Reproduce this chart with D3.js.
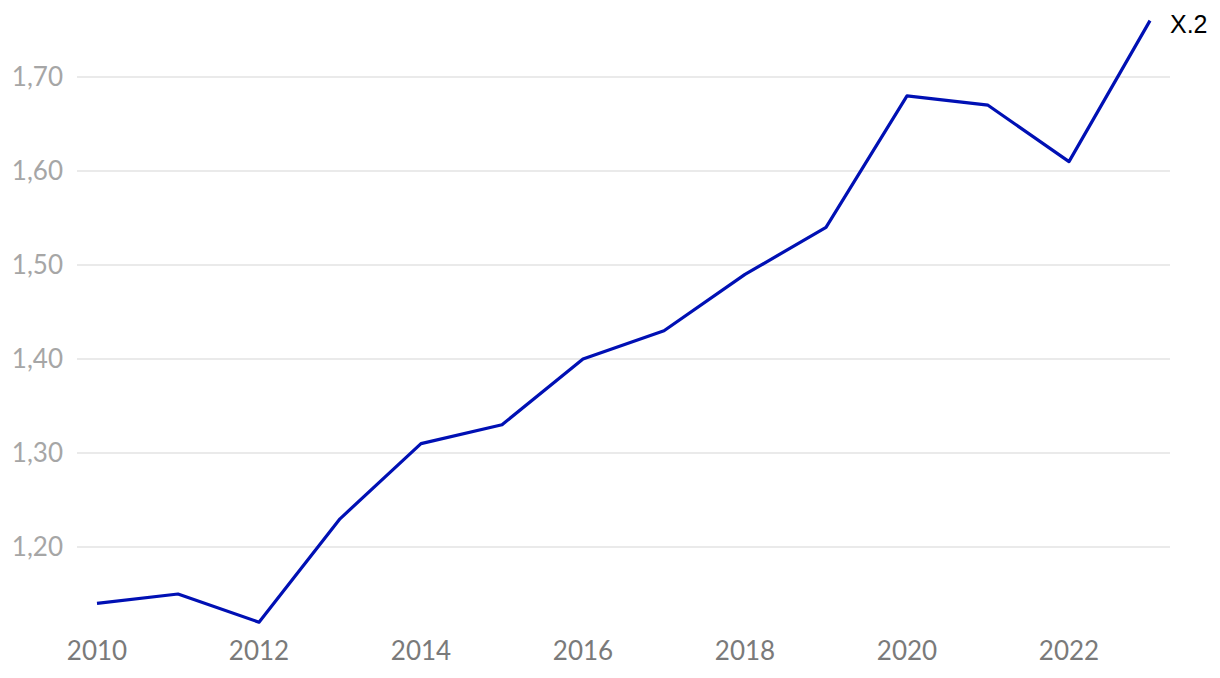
<!DOCTYPE html>
<html>
<head>
<meta charset="utf-8">
<script src="https://cdn.jsdelivr.net/npm/d3@7"></script>
<style>
body { margin: 0; background: #fff; }
</style>
</head>
<body>
<script>
var years = [2010, 2011, 2012, 2013, 2014, 2015, 2016, 2017, 2018, 2019, 2020, 2021, 2022, 2023];
var values = [1.14, 1.15, 1.12, 1.23, 1.31, 1.33, 1.40, 1.43, 1.49, 1.54, 1.68, 1.67, 1.61, 1.76];
var yTicks = [1.2, 1.3, 1.4, 1.5, 1.6, 1.7];
var xTicks = [2010, 2012, 2014, 2016, 2018, 2020, 2022];
var seriesName = 'X.2';

var svg = d3.select('body').append('svg').attr('width', 1220).attr('height', 678);

var x = d3.scaleLinear().domain([2010, 2023]).range([97, 1150]);
var y = d3.scaleLinear().domain([1.1, 1.7]).range([641, 77]);

svg.selectAll('line.grid')
   .data(yTicks).enter().append('line')
   .attr('class', 'grid')
   .attr('x1', 77).attr('x2', 1170)
   .attr('y1', d => y(d)).attr('y2', d => y(d))
   .attr('stroke', '#e3e3e3')
   .attr('stroke-width', 1.5);

svg.selectAll('text.ylab')
   .data(yTicks).enter().append('text')
   .attr('class', 'ylab')
   .attr('text-anchor', 'end')
   .attr('x', 63)
   .attr('y', d => y(d) + 9)
   .attr('fill', '#a6a6a6')
   .attr('font-family', 'Lato')
   .attr('font-size', 26)
   .text(d => d.toFixed(2).replace('.', ','));

svg.selectAll('text.xlab')
   .data(xTicks).enter().append('text')
   .attr('class', 'xlab')
   .attr('text-anchor', 'middle')
   .attr('x', d => x(d))
   .attr('y', 660)
   .attr('fill', '#7a7a7a')
   .attr('font-family', 'Lato')
   .attr('font-size', 26)
   .text(d => d);

var line = d3.line()
   .x((d, i) => x(years[i]))
   .y(d => y(d));

svg.append('path')
   .datum(values)
   .attr('d', line)
   .attr('fill', 'none')
   .attr('stroke', '#0010b4')
   .attr('stroke-width', 3.2)
   .attr('stroke-linejoin', 'round');

svg.append('text')
   .attr('x', x(2023) + 20)
   .attr('y', y(values[values.length - 1]) + 12)
   .attr('fill', '#000')
   .attr('font-family', 'Liberation Sans, Arial, sans-serif')
   .attr('font-size', 25)
   .text(seriesName);
</script>
</body>
</html>
